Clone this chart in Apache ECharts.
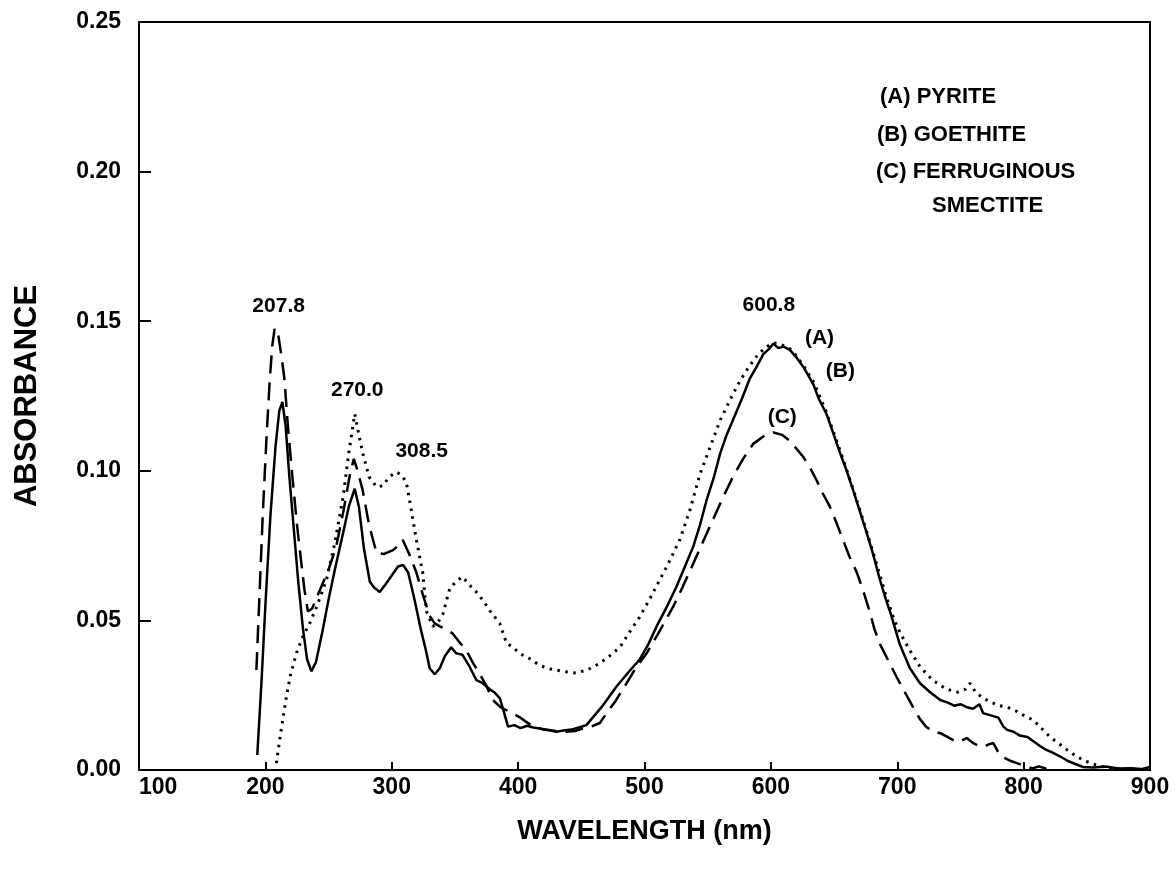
<!DOCTYPE html>
<html>
<head>
<meta charset="utf-8">
<script src="https://cdn.jsdelivr.net/npm/echarts@6/dist/echarts.min.js"></script>
<style>
  html, body { margin: 0; padding: 0; background: #fff; }
  #main { width: 1176px; height: 870px; }
</style>
</head>
<body>
<div id="main"></div>
<script>
// (A) pyrite - solid line, [wavelength nm, absorbance]
var pyrite = [
  [193.6,0.005],[197,0.03],[200,0.055],[204,0.085],[208,0.108],[211,0.12],[213.5,0.123],[216,0.115],
  [219,0.098],[222,0.083],[226,0.063],[229.8,0.047],[233,0.037],[236.4,0.033],[240,0.036],[245,0.046],
  [250,0.057],[255,0.067],[261.4,0.079],[266,0.088],[270.7,0.094],[274,0.088],[278,0.074],[282.6,0.063],
  [286,0.061],[290.5,0.0595],[295,0.062],[300,0.065],[305,0.068],[309,0.0685],[313,0.066],[318,0.057],
  [323,0.047],[327,0.04],[330,0.034],[334,0.032],[338,0.034],[342,0.038],[347,0.041],[351,0.039],
  [356,0.0385],[361,0.035],[367,0.030],[372,0.029],[377.6,0.027],[381,0.026],[385.5,0.024],[389,0.019],
  [392,0.0145],[397,0.015],[402,0.014],[407,0.0148],[412,0.0142],[418,0.0138],[425,0.0133],[430,0.0128],
  [436,0.0132],[442,0.0135],[448,0.0142],[454,0.015],[460,0.018],[466,0.021],[472,0.0245],[478,0.028],
  [484,0.031],[490,0.034],[496,0.0368],[503,0.042],[509.6,0.048],[517,0.054],[525,0.061],[531,0.067],
  [538.5,0.0746],[544,0.082],[549,0.090],[555,0.098],[560,0.106],[565,0.112],[570,0.117],[577,0.124],
  [583.5,0.131],[589,0.135],[594,0.139],[598,0.1405],[602,0.1425],[606,0.141],[610,0.1415],[615,0.1404],
  [620,0.138],[625.7,0.1347],[633.5,0.129],[638,0.124],[644,0.119],[649,0.113],[654.7,0.106],[660,0.100],
  [665,0.0936],[670,0.087],[676,0.079],[681,0.072],[686,0.064],[691,0.057],[695,0.052],[702,0.042],
  [710,0.034],[718,0.029],[726,0.026],[734,0.0234],[740,0.0225],[745,0.0215],[750,0.022],[755,0.021],
  [760,0.0205],[765,0.022],[768,0.019],[772,0.0185],[776,0.018],[780,0.0175],[784,0.0145],[787,0.0134],
  [792,0.0128],[797,0.0115],[803,0.011],[808,0.0095],[813,0.008],[818,0.0067],[823,0.0058],[829,0.0045],
  [835,0.003],[841,0.002],[847,0.001],[855,0.0008],[865,0.0012],[875,0.0005],[885,0.0006],[893,0.0003],[900,0.001]
];

// (B) goethite - dotted line
var goethite = [
  [208.7,0.0023],[212,0.012],[216.6,0.0245],[220,0.032],[224.5,0.039],[230,0.045],[235,0.049],[241,0.055],
  [248.3,0.0635],[255,0.076],[261.4,0.091],[266,0.106],[270.7,0.119],[274,0.112],[277,0.106],[282,0.098],
  [288,0.0946],[293,0.095],[298,0.098],[303.7,0.0996],[308,0.0985],[311.6,0.096],[315,0.088],[319.5,0.0769],
  [324.5,0.066],[327.5,0.053],[332.5,0.048],[336,0.049],[340.4,0.052],[346,0.0608],[351,0.063],[356,0.0646],
  [361,0.062],[366,0.060],[372,0.0568],[378,0.053],[385.5,0.049],[390.8,0.0424],[396,0.041],[401,0.039],
  [410,0.037],[417,0.035],[425,0.0338],[435,0.033],[446,0.0324],[455,0.0335],[464.7,0.0357],[472,0.038],
  [480.5,0.041],[488,0.046],[496,0.051],[504,0.057],[512,0.0635],[520,0.070],[528,0.077],[536,0.087],
  [544,0.099],[552,0.108],[560,0.117],[568,0.124],[575.5,0.130],[583,0.135],[590,0.139],[596.7,0.1415],
  [602,0.1428],[608,0.1422],[615,0.1408],[620,0.1385],[626,0.135],[634,0.1295],[644,0.1195],[655,0.1065],
  [665,0.094],[676,0.0795],[686,0.0655],[692,0.057],[697,0.051],[702,0.046],[710,0.040],[718,0.0345],
  [728,0.030],[739,0.027],[748,0.026],[754,0.027],[757.6,0.029],[762,0.026],[768,0.024],[775,0.0225],
  [781,0.0215],[787,0.021],[795,0.0195],[801,0.018],[807.6,0.0167],[814,0.014],[821,0.011],[828,0.0088],
  [834.5,0.0067],[841,0.0048],[847,0.0033],[855,0.002],[862,0.0012],[870,0.0005],[880,0.0003],[890,0.0002],[900,0]
];

// (C) ferruginous smectite - dashed line
var smectite = [
  [192.9,0.0334],[195,0.055],[198,0.086],[201,0.112],[203.4,0.130],[205.5,0.142],[207.4,0.1477],[210,0.146],
  [212.5,0.139],[215,0.131],[218,0.114],[221.6,0.097],[225,0.082],[228.5,0.069],[231,0.06],[233.6,0.053],
  [237,0.054],[243,0.060],[250,0.067],[256,0.0746],[262,0.087],[267,0.099],[270,0.104],[273,0.1],
  [277,0.0935],[282,0.082],[288,0.0725],[294,0.0722],[301,0.0735],[305,0.075],[308.7,0.0769],[314,0.072],
  [319.5,0.066],[325,0.058],[330,0.0515],[334,0.049],[338,0.048],[343,0.047],[348,0.0457],[353,0.043],
  [359,0.040],[364,0.036],[369.7,0.032],[375,0.028],[380,0.0234],[386,0.021],[393,0.0195],[401,0.0177],
  [410,0.015],[420,0.0135],[430,0.013],[438,0.0128],[445,0.013],[452,0.014],[458,0.0145],[464.7,0.0157],
  [470,0.019],[477,0.023],[485.8,0.029],[493,0.034],[501.7,0.039],[510,0.045],[516,0.0495],[522.6,0.0545],
  [530,0.061],[538.6,0.069],[546,0.076],[554,0.0835],[562,0.091],[570,0.098],[578,0.104],[586,0.109],
  [594,0.1115],[602,0.1128],[609,0.112],[615,0.110],[620,0.1075],[625.7,0.1046],[631,0.101],[636,0.097],
  [641,0.0925],[646.7,0.088],[652,0.0825],[657,0.077],[662,0.0715],[668,0.066],[673,0.06],[678.5,0.0525],
  [682,0.047],[686.4,0.042],[693,0.0365],[699.6,0.031],[706,0.026],[712.5,0.021],[718,0.017],[723,0.0144],
  [728,0.013],[734,0.0123],[740,0.011],[747,0.0094],[751,0.0098],[755,0.0107],[760,0.009],[764,0.0082],
  [768,0.0077],[772,0.0085],[776,0.009],[778,0.0075],[781,0.005],[786,0.0038],[790,0.003],[794.6,0.0023],
  [800,0.0015],[807,0.0005],[812,0.0012],[818,0.0004],[825,0.0002]
];

// peak labels and curve tags, placed in data units
var noteWl   = [210.5, 272.7, 323.7, 598.4, 638.5, 655, 609];
var noteAbs  = [0.155, 0.127, 0.1066, 0.1554, 0.1444, 0.1334, 0.118];
var noteText = ['207.8', '270.0', '308.5', '600.8', '(A)', '(B)', '(C)'];

var legendLines = ['(A) PYRITE', '(B) GOETHITE', '(C) FERRUGINOUS', 'SMECTITE'];

var FONT = '"Liberation Sans", Arial, Helvetica, sans-serif';

var notes = [];
for (var i = 0; i < noteText.length; i++) {
  notes.push([noteWl[i], noteAbs[i], noteText[i]]);
}

var myChart = echarts.init(document.getElementById('main'), null, { renderer: 'canvas' });

// key text block in the upper right corner
var legendX = [880, 877, 876, 932];
var legendY = [99, 137, 174, 208];
var graphics = [];
for (var j = 0; j < legendLines.length; j++) {
  graphics.push({
    type: 'text',
    left: legendX[j],
    top: legendY[j] - 13,
    silent: true,
    style: {
      text: legendLines[j],
      fill: '#000',
      font: 'bold 22px ' + FONT
    }
  });
}

var option = {
  animation: false,
  backgroundColor: '#fff',
  grid: {
    left: 139, right: 26, top: 22, bottom: 100,
    outerBoundsMode: 'none',
    show: true, borderColor: '#000', borderWidth: 2
  },
  xAxis: {
    type: 'value',
    min: 100, max: 900, interval: 100,
    name: 'WAVELENGTH (nm)',
    nameLocation: 'middle',
    nameGap: 48,
    nameTextStyle: { fontFamily: FONT, fontWeight: 'bold', fontSize: 27, color: '#000' },
    axisLine: { lineStyle: { color: '#000', width: 2 } },
    axisTick: { inside: true, length: 8, lineStyle: { color: '#000', width: 2 } },
    axisLabel: {
      fontFamily: FONT, fontWeight: 'bold', fontSize: 23, color: '#000', margin: 6,
      alignMinLabel: 'left'
    },
    splitLine: { show: false }
  },
  yAxis: {
    type: 'value',
    min: 0, max: 0.25, interval: 0.05,
    name: 'ABSORBANCE',
    nameLocation: 'middle',
    nameGap: 96,
    nameTextStyle: { fontFamily: FONT, fontWeight: 'bold', fontSize: 31, color: '#000' },
    axisLine: { lineStyle: { color: '#000', width: 2 } },
    axisTick: { inside: true, length: 12, lineStyle: { color: '#000', width: 2 } },
    axisLabel: {
      fontFamily: FONT, fontWeight: 'bold', fontSize: 23, color: '#000', margin: 18,
      formatter: function (v) { return v.toFixed(2); }
    },
    splitLine: { show: false }
  },
  series: [
    {
      name: '(A) PYRITE', type: 'line', data: pyrite,
      showSymbol: false, symbol: 'none', smooth: false,
      lineStyle: { color: '#000', width: 2.5, type: 'solid' }
    },
    {
      name: '(B) GOETHITE', type: 'line', data: goethite,
      showSymbol: false, symbol: 'none',
      lineStyle: { color: '#000', width: 3, type: [2.5, 5.5] }
    },
    {
      name: '(C) FERRUGINOUS SMECTITE', type: 'line', data: smectite,
      showSymbol: false, symbol: 'none',
      lineStyle: { color: '#000', width: 2.5, type: [18, 9] }
    },
    {
      name: 'notes', type: 'scatter', data: notes,
      symbolSize: 1, silent: true,
      itemStyle: { color: 'rgba(0,0,0,0)', opacity: 1 },
      label: {
        show: true, position: 'inside',
        formatter: function (p) { return p.data[2]; },
        fontFamily: FONT, fontWeight: 'bold', fontSize: 21, color: '#000'
      }
    }
  ],
  graphic: graphics
};

myChart.setOption(option);
window.onresize = myChart.resize;
</script>
</body>
</html>
